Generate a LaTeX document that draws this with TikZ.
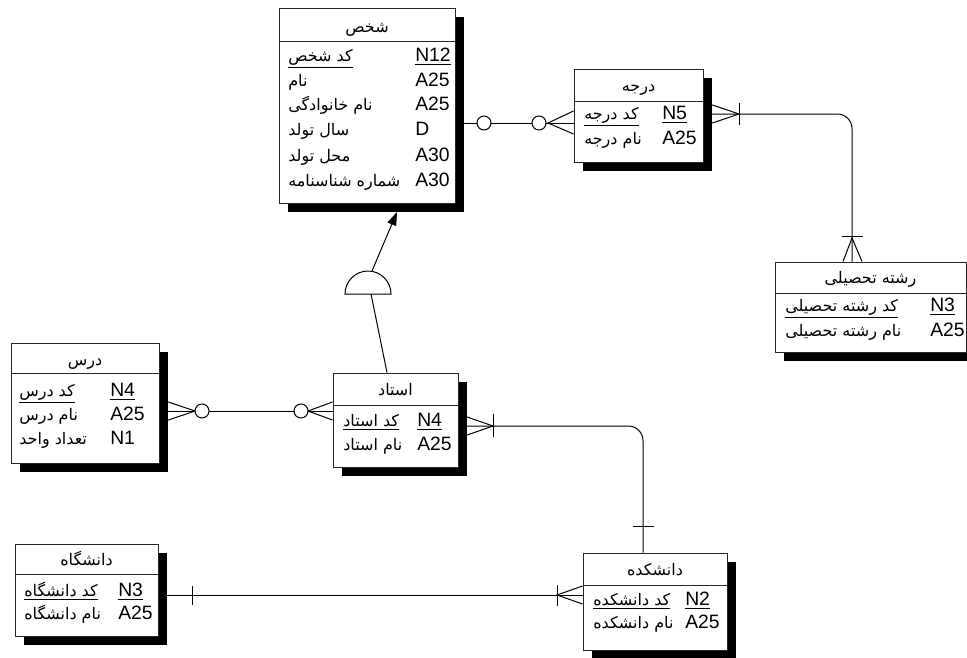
\documentclass[tikz,border=0pt]{standalone}
\usepackage{fontspec}
\setmainfont{Liberation Sans}
\newfontfamily\farsifont[Script=Arabic]{DejaVu Sans}
\TeXXeTstate=1
\usetikzlibrary{shadows,fit,backgrounds,arrows.meta}
\newcommand\fa[1]{{\farsifont\fontsize{12pt}{14pt}\selectfont\beginR #1\endR}}
\newcommand\uf[1]{\underline{\fa{#1}}}
\begin{document}
\begin{tikzpicture}[x=0.75pt,y=-0.75pt,
  font=\fontsize{14.5pt}{17pt}\selectfont,
  entbox/.style={draw=black!85, fill=white, line width=0.75pt, inner sep=0pt,
    drop shadow={shadow xshift=6.75pt, shadow yshift=-6.75pt, opacity=1, fill=black}},
  divider/.style={draw=black!85, line width=0.75pt},
  txt/.style={inner sep=0pt, text height=10.4pt, text depth=0pt, anchor=west},
  hdr/.style={inner sep=0pt, text height=10.4pt, text depth=0pt, anchor=center},
  rel/.style={draw=black, line width=0.75pt},
  circ/.style={circle, draw=black, fill=white, line width=0.75pt, minimum size=10.5pt, inner sep=0pt},
]
\useasboundingbox (0,0) rectangle (967,657);

% ---------------- entities ----------------
% shakhs
\node[entbox, fit={(279,8) (455,203)}] (shakhs) {};
\draw[divider] (shakhs.west |- 0,41) -- (shakhs.east |- 0,41);
\node[hdr] (shakhs-h) at (shakhs.north |- 0,26) {\fa{شخص}};
\node[txt] (shakhs-a1) at (288,55) {\uf{کد شخص}};
\node[txt] (shakhs-t1) at (415,55) {\underline{N12}};
\node[txt] (shakhs-a2) at (288,80) {\fa{نام}};
\node[txt] (shakhs-t2) at (415,80) {A25};
\node[txt] (shakhs-a3) at (288,104) {\fa{نام خانوادگی}};
\node[txt] (shakhs-t3) at (415,104) {A25};
\node[txt] (shakhs-a4) at (288,129) {\fa{سال تولد}};
\node[txt] (shakhs-t4) at (415,129) {D};
\node[txt] (shakhs-a5) at (288,155) {\fa{محل تولد}};
\node[txt] (shakhs-t5) at (415,155) {A30};
\node[txt] (shakhs-a6) at (288,180) {\fa{شماره شناسنامه}};
\node[txt] (shakhs-t6) at (415,180) {A30};

% daraje
\node[entbox, fit={(574,69) (703,162)}] (daraje) {};
\draw[divider] (daraje.west |- 0,101) -- (daraje.east |- 0,101);
\node[hdr] (daraje-h) at (daraje.north |- 0,85) {\fa{درجه}};
\node[txt] (daraje-a1) at (584,113) {\uf{کد درجه}};
\node[txt] (daraje-t1) at (662,113) {\underline{N5}};
\node[txt] (daraje-a2) at (584,138) {\fa{نام درجه}};
\node[txt] (daraje-t2) at (662,138) {A25};

% reshte
\node[entbox, fit={(775,262) (966,352)}] (reshte) {};
\draw[divider] (reshte.west |- 0,293) -- (reshte.east |- 0,293);
\node[hdr] (reshte-h) at (reshte.north |- 0,277) {\fa{رشته تحصیلی}};
\node[txt] (reshte-a1) at (785,305) {\uf{کد رشته تحصیلی}};
\node[txt] (reshte-t1) at (930,305) {\underline{N3}};
\node[txt] (reshte-a2) at (785,330) {\fa{نام رشته تحصیلی}};
\node[txt] (reshte-t2) at (930,330) {A25};

% dars
\node[entbox, fit={(11,343) (159,463)}] (dars) {};
\draw[divider] (dars.west |- 0,373) -- (dars.east |- 0,373);
\node[hdr] (dars-h) at (dars.north |- 0,359) {\fa{درس}};
\node[txt] (dars-a1) at (19,390) {\uf{کد درس}};
\node[txt] (dars-t1) at (110,390) {\underline{N4}};
\node[txt] (dars-a2) at (19,414) {\fa{نام درس}};
\node[txt] (dars-t2) at (110,414) {A25};
\node[txt] (dars-a3) at (19,438) {\fa{تعداد واحد}};
\node[txt] (dars-t3) at (110,438) {N1};

% ostad
\node[entbox, fit={(333,373) (458,467)}] (ostad) {};
\draw[divider] (ostad.west |- 0,405) -- (ostad.east |- 0,405);
\node[hdr] (ostad-h) at (ostad.north |- 0,389) {\fa{استاد}};
\node[txt] (ostad-a1) at (343,420) {\uf{کد استاد}};
\node[txt] (ostad-t1) at (417,420) {\underline{N4}};
\node[txt] (ostad-a2) at (343,444) {\fa{نام استاد}};
\node[txt] (ostad-t2) at (417,444) {A25};

% daneshkade
\node[entbox, fit={(583,553) (727,650)}] (daneshkade) {};
\draw[divider] (daneshkade.west |- 0,585) -- (daneshkade.east |- 0,585);
\node[hdr] (daneshkade-h) at (daneshkade.north |- 0,569) {\fa{دانشکده}};
\node[txt] (daneshkade-a1) at (593,599) {\uf{کد دانشکده}};
\node[txt] (daneshkade-t1) at (685,599) {\underline{N2}};
\node[txt] (daneshkade-a2) at (593,622) {\fa{نام دانشکده}};
\node[txt] (daneshkade-t2) at (685,622) {A25};

% daneshgah
\node[entbox, fit={(15,544) (158,636)}] (daneshgah) {};
\draw[divider] (daneshgah.west |- 0,574) -- (daneshgah.east |- 0,574);
\node[hdr] (daneshgah-h) at (daneshgah.north |- 0,559) {\fa{دانشگاه}};
\node[txt] (daneshgah-a1) at (24,590) {\uf{کد دانشگاه}};
\node[txt] (daneshgah-t1) at (118,590) {\underline{N3}};
\node[txt] (daneshgah-a2) at (24,613) {\fa{نام دانشگاه}};
\node[txt] (daneshgah-t2) at (118,613) {A25};

% ---------------- connectors ----------------
\begin{scope}[on background layer]
% shakhs -- daraje (zero or many)
\coordinate (ab) at (548,123);
\draw[rel] (shakhs.east |- 0,123) -- (daraje.west |- 0,123);
\draw[rel] (daraje.west |- 0,111) -- (ab) -- (daraje.west |- 0,134);
\node[circ] (ca1) at (484,123) {};
\node[circ] (ca2) at (539,123) {};

% daraje -- reshte
\coordinate (bb) at (739,114);
\coordinate (bk) at (852,114);
\coordinate (bc) at (852,238);
\draw[rel, rounded corners=11pt] (daraje.east |- 0,114) -- (bk) -- (bk |- reshte.north);
\draw[rel] (daraje.east |- 0,102) -- (bb) -- (daraje.east |- 0,126);
\draw[rel] (739,103) -- (739,125);
\draw[rel] (842,236) -- (863,236);
\draw[rel] (843,0 |- reshte.north) -- (bc) -- (862,0 |- reshte.north);

% dars -- ostad
\coordinate (cd) at (195,411);
\coordinate (co) at (308,411);
\draw[rel] (dars.east |- 0,411) -- (ostad.west |- 0,411);
\draw[rel] (dars.east |- 0,399) -- (cd) -- (dars.east |- 0,423);
\draw[rel] (ostad.west |- 0,402) -- (co) -- (ostad.west |- 0,420);
\node[circ] (cc1) at (202,411) {};
\node[circ] (cc2) at (301,411) {};

% ostad -- daneshkade
\coordinate (db) at (493,426);
\coordinate (dk) at (643,426);
\draw[rel, rounded corners=11pt] (ostad.east |- 0,426) -- (dk) -- (dk |- daneshkade.north);
\draw[rel] (ostad.east |- 0,414) -- (db) -- (ostad.east |- 0,438);
\draw[rel] (493,414) -- (493,437);
\draw[rel] (633,526) -- (654,526);

% daneshgah -- daneshkade
\coordinate (eb) at (557,595);
\draw[rel] (daneshgah.east |- 0,595) -- (daneshkade.west |- 0,595);
\draw[rel] (192,586) -- (192,605);
\draw[rel] (daneshkade.west |- 0,586) -- (eb) -- (daneshkade.west |- 0,604);
\draw[rel] (557,585) -- (557,606);

% subtype
\coordinate (subtop) at (372,271);
\coordinate (subbot) at (371,294);
\draw[rel, -{Triangle[length=10pt,width=7pt]}] (subtop) -- (397,212);
\draw[rel] (subbot) -- (387,0 |- ostad.north);
\draw[rel, fill=white] (345,294) arc[start angle=180, end angle=360, radius=23] -- cycle;
\end{scope}
\end{tikzpicture}
\end{document}
